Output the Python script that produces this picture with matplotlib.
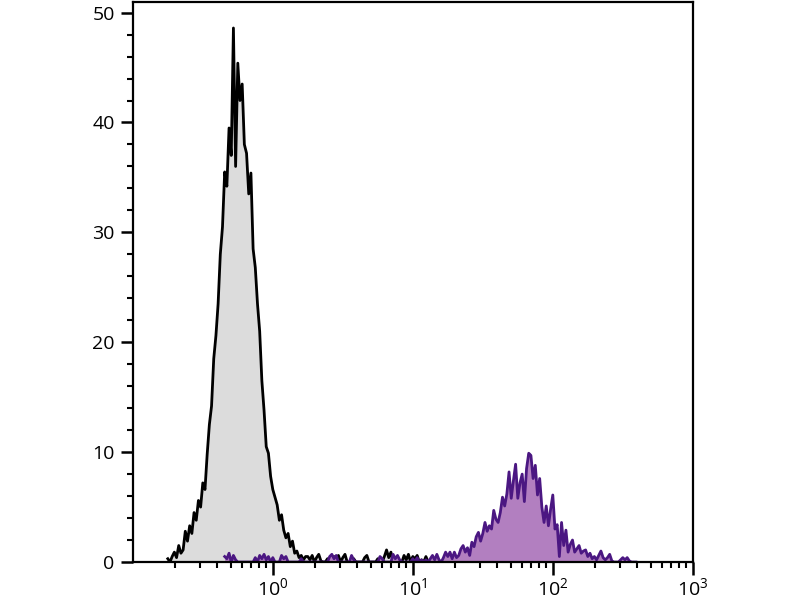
import matplotlib
matplotlib.use("Agg")
import matplotlib.pyplot as plt
import numpy as np
from matplotlib.ticker import LogLocator, FixedLocator, MultipleLocator, NullFormatter

# Histogram channels: 64 bins per decade (log10 of fluorescence)
bins_per_decade = 64

# Unstained control (gray/black), first bin at log10 = -0.75
control_log_start = -0.75
control_counts = [
    0.3, 0.0, 0.5, 0.9, 0.4, 1.5, 0.8, 1.1, 2.8, 1.9,
    3.3, 2.6, 4.5, 3.8, 5.6, 5.0, 7.2, 6.6, 9.8, 12.5,
    14.2, 18.5, 20.6, 23.5, 28.0, 30.5, 35.5, 34.2, 39.5, 37.0,
    48.6, 36.0, 45.4, 42.0, 43.5, 38.0, 37.2, 33.5, 35.4, 28.5,
    26.8, 23.5, 21.0, 16.5, 13.8, 10.5, 9.9, 7.8, 6.6, 5.9,
    5.2, 3.8, 4.3, 2.9, 2.2, 2.6, 1.4, 1.9, 0.8, 1.0,
    0.4, 0.6, 0.2, 0.5, 0.5, 0.2, 0.6, 0.0, 0.4, 0.7,
    0.1, 0.0, 0.0, 0.3, 0.0, 0.0, 0.5, 0.2, 0.6, 0.0,
    0.4, 0.7, 0.0, 0.0, 0.0, 0.3, 0.0, 0.0, 0.0, 0.0,
    0.4, 0.6, 0.0, 0.0, 0.0, 0.0, 0.3, 0.0, 0.0, 0.5,
    1.1, 0.4, 0.9, 0.0, 0.0, 0.3, 0.0, 0.0, 0.6, 0.2,
    0.7, 0.0, 0.5, 0.3, 0.6, 0.0, 0.2, 0.0, 0.5, 0.0,
    0.0, 0.0, 0.0, 0.0,
]

# Stained sample (purple), first bin at log10 = -0.34375
stained_log_start = -0.34375
stained_counts = [
    # low-level events (log -0.34 .. 1.0)
    0.5, 0.3, 0.8, 0.0, 0.6, 0.2, 0.0, 0.0, 0.0, 0.0,
    0.0, 0.0, 0.0, 0.0, 0.4, 0.0, 0.6, 0.3, 0.7, 0.2,
    0.5, 0.0, 0.4, 0.0, 0.0, 0.0, 0.6, 0.3, 0.5, 0.0,
    0.0, 0.0, 0.0, 0.0, 0.0, 0.3, 0.0, 0.0, 0.0, 0.0,
    0.0, 0.0, 0.0, 0.0, 0.0, 0.0, 0.0, 0.0, 0.5, 0.7,
    0.3, 0.6, 0.0, 0.0, 0.0, 0.0, 0.0, 0.0, 0.6, 0.2,
    0.0, 0.0, 0.0, 0.0, 0.0, 0.0, 0.0, 0.0, 0.0, 0.0,
    0.0, 0.5, 0.3, 0.0, 0.0, 0.0, 0.0, 0.7, 0.3, 0.6,
    0.2, 0.0, 0.0, 0.0, 0.0, 0.0,
    # main peak (log 1.0 .. 2.6)
    0.3, 0.0, 0.4, 0.0, 0.2, 0.0, 0.2, 0.0, 0.3, 0.6,
    0.2, 0.7, 0.2, 0.0, 0.4, 0.9, 0.5, 0.9, 0.3, 0.9,
    0.4, 0.6, 1.2, 1.5, 0.9, 1.3, 0.6, 1.8, 1.4, 2.3,
    2.7, 1.9, 2.6, 3.6, 2.8, 3.3, 3.0, 4.7, 3.9, 3.6,
    4.5, 5.9, 5.1, 6.2, 8.2, 5.8, 7.4, 8.9, 5.8, 7.2,
    8.0, 5.5, 8.5, 9.9, 9.7, 7.6, 8.8, 6.1, 7.6, 5.0,
    3.6, 5.1, 3.3, 4.8, 6.1, 3.0, 3.4, 0.5, 3.6, 1.5,
    2.9, 0.9, 1.6, 2.0, 0.9, 1.2, 1.5, 0.8, 1.0, 1.1,
    0.5, 0.8, 0.3, 0.5, 0.2, 0.6, 1.0, 0.4, 0.2, 0.4,
    0.7, 0.1, 0.0, 0.0, 0.0, 0.2, 0.4, 0.2, 0.4, 0.1,
    0.0, 0.0, 0.0,
]

x_ticks = [1, 10, 100, 1000]
x_tick_labels = [r"$10^0$", r"$10^1$", r"$10^2$", r"$10^3$"]
y_ticks = [0, 10, 20, 30, 40, 50]


def channel_x(start, n):
    return 10 ** (start + np.arange(n) / bins_per_decade)


plt.rcParams['font.family'] = ['Open Sans', 'DejaVu Sans']
plt.rcParams['mathtext.fontset'] = 'custom'
plt.rcParams['mathtext.rm'] = 'Open Sans'
fig = plt.figure(figsize=(8, 6), dpi=100)
ax = fig.add_axes([0.166, 0.0633, 0.700, 0.934])

xc = channel_x(control_log_start, len(control_counts))
xs = channel_x(stained_log_start, len(stained_counts))

ax.fill_between(xc, 0, control_counts, color="#dcdcdc", linewidth=0, zorder=1)
ax.plot(xc, control_counts, color="black", linewidth=2.0, zorder=2)
ax.fill_between(xs, 0, stained_counts, color="#b27fc0", linewidth=0, zorder=3)
ax.plot(xs, stained_counts, color="#4b1782", linewidth=2.0, zorder=4)

ax.set_xscale("log")
ax.set_xlim(0.1, 1000)
ax.set_ylim(0, 51)

ax.xaxis.set_major_locator(FixedLocator(x_ticks))
ax.set_xticklabels(x_tick_labels)
ax.xaxis.set_minor_locator(LogLocator(base=10, subs=np.arange(2, 10), numticks=20))
ax.xaxis.set_minor_formatter(NullFormatter())

ax.yaxis.set_major_locator(FixedLocator(y_ticks))
ax.yaxis.set_minor_locator(MultipleLocator(2))

for s in ax.spines.values():
    s.set_linewidth(1.6)
    s.set_zorder(5)

ax.tick_params(which="major", length=9, width=1.8, labelsize=14, direction="out", pad=4)
ax.tick_params(axis="x", which="major", pad=2)
ax.tick_params(which="minor", length=4.5, width=1.5, direction="out")

fig.savefig("out.png", dpi=100)
